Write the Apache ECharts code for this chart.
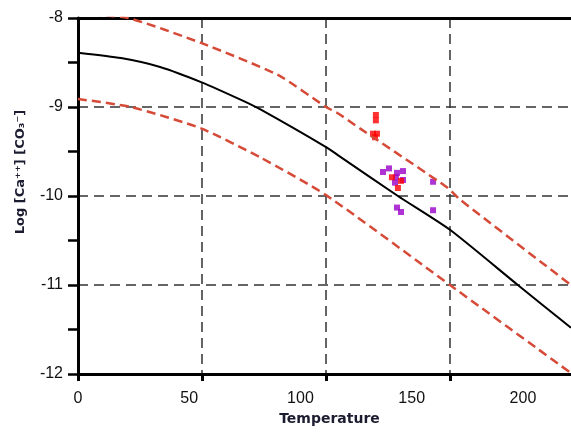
<!DOCTYPE html>
<html>
<head>
<meta charset="UTF-8">
<title>Log [Ca++][CO3-] vs Temperature</title>
<script src="https://cdn.jsdelivr.net/npm/echarts@6/dist/echarts.min.js"></script>
<style>
	html, body { margin: 0; padding: 0; background: #fff; }
	#chart { width: 571px; height: 432px; }
</style>
</head>
<body>
<div id="chart"></div>
<script>
	// solubility curve (solid) and its two bounds (dashed)
	var curveTemp = [0, 19.3, 36.9, 55.3, 73.3, 82.2, 111.5, 116.8, 143.8, 167.2, 197.7, 221.6];
	var curveLog = [-8.39, -8.45, -8.55, -8.72, -8.92, -9.03, -9.45, -9.54, -10.0, -10.38, -11.0, -11.48];

	var upperTemp = [0, 22.5, 55.3, 89.9, 111.5, 116.8, 126.7, 166.3, 171.7, 221.6];
	var upperLog = [-7.95, -8.0, -8.28, -8.64, -9.0, -9.07, -9.24, -9.91, -10.04, -11.0];

	var lowerTemp = [0, 23.8, 55.3, 82.2, 111.5, 167.2, 221.6];
	var lowerLog = [-8.91, -9.0, -9.24, -9.57, -9.99, -11.0, -11.99];

	// measured samples
	var redTemp = [133.9, 133.9, 132.6, 134.4, 133.5, 141.1, 145.2, 143.8];
	var redLog = [-9.09, -9.15, -9.30, -9.30, -9.34, -9.79, -9.83, -9.91];

	var purpleTemp = [137.1, 139.8, 142.9, 143.4, 146.1, 142.5, 146.1, 159.6, 143.4, 145.2, 159.6];
	var purpleLog = [-9.73, -9.69, -9.79, -9.74, -9.72, -9.85, -9.82, -9.84, -10.13, -10.18, -10.16];

	function pairs(xs, ys) {
		return xs.map(function(x, i) { return [x, ys[i]]; });
	}

	var chart = echarts.init(document.getElementById('chart'));
	var redDash = { color: '#d64a38', width: 2.5, type: [9, 5] };

	var option = {
		animation: false,
		backgroundColor: '#fff',
		// plot runs past the right edge of the picture
		grid: { left: 78, width: 503, top: 18, bottom: 58, outerBoundsMode: 'none' },
		xAxis: [{
			// axis carrying the labels
			type: 'value', position: 'bottom', min: 0, max: 226.1, interval: 50,
			axisLine: { show: false }, axisTick: { show: false }, splitLine: { show: false },
			axisLabel: { fontSize: 16, color: '#111', margin: 17, fontFamily: 'Liberation Sans', showMaxLabel: false },
			name: 'Temperature', nameLocation: 'middle', nameGap: 31,
			nameTextStyle: { fontSize: 14, fontWeight: 'bold', color: '#1c1c30', fontFamily: 'DejaVu Sans' }
		}, {
			// axis carrying the ticks and the dashed grid
			type: 'value', position: 'bottom', min: 0, max: 202.8, interval: 50,
			axisLine: { show: true, lineStyle: { color: '#000', width: 3 } },
			axisTick: { show: true, length: 7, lineStyle: { color: '#000', width: 3 } },
			axisLabel: { show: false },
			splitLine: { show: true, lineStyle: { color: '#333', width: 1.5, type: [10, 6] } }
		}, {
			type: 'value', position: 'top', min: 0, max: 226.1,
			axisLine: { show: true, lineStyle: { color: '#000', width: 3 } },
			axisTick: { show: false }, axisLabel: { show: false }, splitLine: { show: false }
		}],
		yAxis: {
			type: 'value', min: -12, max: -8, interval: 1,
			axisLine: { show: true, lineStyle: { color: '#000', width: 3 } },
			axisTick: { show: true, length: 10, lineStyle: { color: '#000', width: 2.5 } },
			minorTick: { show: true, splitNumber: 2, length: 10, lineStyle: { color: '#000', width: 2.5 } },
			splitLine: { show: true, lineStyle: { color: '#333', width: 1.5, type: [10, 6] } },
			axisLabel: { fontSize: 16, color: '#111', margin: 15, fontFamily: 'Liberation Sans' },
			name: 'Log [Ca⁺⁺] [CO₃⁻]', nameLocation: 'middle', nameGap: 51,
			nameTextStyle: { fontSize: 13, fontWeight: 'bold', color: '#1c1c30', fontFamily: 'DejaVu Sans', padding: [0, 0, 0, 48] }
		},
		series: [{
			type: 'line', xAxisIndex: 0, data: pairs(curveTemp, curveLog),
			smooth: 0.2, symbol: 'none', lineStyle: { color: '#000', width: 2 }
		}, {
			type: 'line', xAxisIndex: 0, data: pairs(upperTemp, upperLog),
			smooth: 0.2, symbol: 'none', lineStyle: redDash
		}, {
			type: 'line', xAxisIndex: 0, data: pairs(lowerTemp, lowerLog),
			smooth: 0.2, symbol: 'none', lineStyle: redDash
		}, {
			type: 'scatter', xAxisIndex: 0, data: pairs(purpleTemp, purpleLog),
			symbol: 'rect', symbolSize: 6, itemStyle: { color: '#9a00c8' }
		}, {
			type: 'scatter', xAxisIndex: 0, data: pairs(redTemp, redLog),
			symbol: 'rect', symbolSize: 6, itemStyle: { color: '#ff0000' }
		}]
	};
	chart.setOption(option);
</script>
</body>
</html>
